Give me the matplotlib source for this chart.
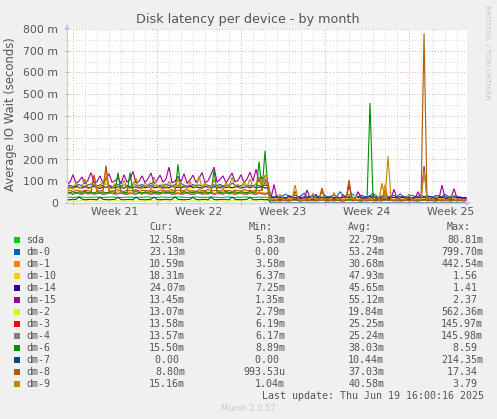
import numpy as np
import matplotlib
matplotlib.use('Agg')
import matplotlib.pyplot as plt
from matplotlib.patches import Rectangle
from matplotlib.transforms import blended_transform_factory

# samples every 6 hours, day 0 = Monday of week 21, first sample at day -0.5
t0 = -0.5
step = 0.25

sda = [26,27,25,26,28,27,26,25,27,26, 28,26,25,27,26,28,27,26,25,26,
       27,28,26,25,27,26,27,28,26,25, 26,27,28,26,25,27,26,28,27,26,
       25,26,27,28,26,25,27,26,28,27, 26,25,26,27,28,26,25,27,26,28,
       27,26,25,26,27,26,27,25,
       12,11,13,12,14,12,11,13,15,12, 11,13,12,14,13,12,11,12,14,13,
       12,13,15,12,11,13,12,14,12,13, 11,12,13,14,12,15,13,12,11,13,
       12,14,13,12,11,12,13,14,12,13, 15,12,11,13,12,14,13,12,11,12,
       13,14,12,13,12,13]
dm0 = [78,82,75,80,85,79,76,83,88,80, 77,84,79,90,82,76,81,86,78,83,
       80,75,88,82,79,85,77,81,92,80, 78,83,76,87,81,79,84,78,90,82,
       77,80,85,79,83,76,88,81,78,84, 80,86,77,82,79,91,83,78,80,85,
       77,82,79,84,80,76,82,78,
       30,28,33,27,35,40,29,31,36,28, 33,45,30,27,38,32,29,50,34,28,
       31,37,29,52,35,30,28,41,33,29, 36,31,27,34,44,30,28,33,38,29,
       31,35,28,42,30,27,33,36,29,31, 38,28,34,30,27,35,32,29,40,31,
       28,33,30,27,25,23]
dm1 = [45,48,42,50,46,44,52,47,43,125, 49,45,48,165,50,44,47,52,46,43,
       51,48,45,60,47,44,50,46,49,53, 45,48,44,51,47,55,46,49,43,50,
       48,45,52,47,44,58,49,46,50,45, 47,53,44,48,51,46,49,45,52,47,
       44,50,48,46,52,47,45,50,
       12,14,11,15,13,12,16,14,11,13, 15,12,14,11,13,16,12,70,13,11,
       14,12,15,13,11,14,100,12,15,13, 11,14,12,16,13,11,14,12,85,13,
       15,12,11,14,13,16,12,11,14,13, 12,15,11,13,14,12,16,13,11,12,
       14,13,11,12,10,11]
dm10 = [65,70,62,75,68,72,80,66,70,74, 63,78,70,95,67,72,76,69,64,82,
        71,68,75,100,70,66,73,79,68,72, 85,67,74,70,65,78,72,90,68,75,
        70,66,80,73,69,76,95,70,67,74, 71,78,65,72,86,69,74,70,66,92,
        73,68,75,80,100,72,95,70,
        18,20,16,22,19,17,21,24,18,20, 16,19,23,18,17,21,20,25,18,16,
        19,22,17,20,24,18,16,21,19,17, 23,20,18,16,22,19,17,92,20,18,
        21,17,19,23,18,16,20,22,19,17, 35,18,21,19,16,20,18,22,17,19,
        21,18,16,20,19,18]
dm14 = [70,74,68,76,72,69,75,71,73,78, 70,67,74,72,76,69,71,75,73,68,
        77,70,72,74,69,76,71,73,80,70, 72,75,68,74,71,77,70,73,69,75,
        72,78,70,74,71,68,76,73,70,75, 72,69,77,71,74,70,73,76,69,72,
        75,71,78,70,73,74,69,71,
        26,24,28,25,27,23,29,26,24,27, 25,28,24,26,30,25,23,27,26,24,
        28,25,27,23,26,29,24,27,25,26, 28,24,26,30,25,27,23,26,28,24,
        27,25,26,29,24,27,25,23,28,26, 24,27,25,29,26,24,27,25,28,26,
        24,27,25,26,24,25]
dm15 = [85,95,130,90,100,120,88,105,140,92, 98,125,90,110,135,95,102,118,88,130,
        96,108,145,92,100,125,94,112,138,90, 104,128,96,110,165,92,100,122,98,135,
        90,106,128,95,112,140,94,102,130,165, 96,108,125,92,115,138,98,104,130,94,
        110,142,100,155,98,120,105,95,
        22,85,20,18,25,19,35,21,17,24, 20,18,60,22,19,40,21,17,23,20,
        30,19,22,18,38,21,83,20,19,52, 22,18,24,20,35,19,21,18,23,20,
        22,63,19,21,32,18,23,20,22,52, 19,170,21,18,24,20,22,82,19,21,
        23,66,20,18,22,19]
dm2 = [9,10,9,8,9,10,11,9,8,9, 10,9,8,9,10,9,11,10,9,8,
       9,10,9,8,9,10,9,11,10,9, 8,9,10,9,8,9,10,9,11,9,
       8,9,10,9,8,9,10,11,9,8, 9,10,9,8,9,10,9,11,10,9,
       8,9,10,9,8,9,10,9,
       14,16,13,18,15,12,17,20,14,16, 13,15,18,22,14,12,16,19,15,13,
       17,14,20,16,13,15,18,14,35,16, 13,17,15,12,19,16,14,18,40,15,
       13,16,14,17,20,15,13,16,18,14, 12,15,17,14,16,13,19,15,14,16,
       13,17,15,14,16,13]
dm3 = [42,44,41,45,43,40,46,42,44,41, 43,45,40,42,46,44,41,43,45,42,
       40,44,43,41,46,42,45,43,40,44, 42,41,45,43,46,40,42,44,41,43,
       45,42,40,44,46,41,43,42,45,40, 44,43,41,46,42,44,40,43,45,41,
       42,44,43,40,46,42,41,44,
       13,14,12,15,13,12,14,13,15,12, 14,13,12,15,14,13,12,14,13,15,
       12,13,14,12,15,13,14,12,13,15, 14,12,13,14,15,12,13,14,12,13,
       15,14,12,13,14,12,15,13,14,12, 13,15,14,12,13,14,12,13,15,14,
       12,13,14,12,13,14]
dm4 = [43,44,42,45,43,41,46,42,44,42, 43,45,41,42,46,44,42,43,45,42,
       41,44,43,42,46,42,45,43,41,44, 42,42,45,43,46,41,42,44,42,43,
       45,42,41,44,46,42,43,42,45,41, 44,43,42,46,42,44,41,43,45,42,
       42,44,43,41,46,42,42,44,
       13,14,12,15,13,12,14,13,15,12, 14,13,12,15,14,13,12,14,13,15,
       12,13,14,12,15,13,14,12,13,15, 14,12,13,14,15,12,13,14,12,13,
       15,14,12,13,14,12,15,13,14,12, 13,15,14,12,13,14,12,13,15,14,
       12,13,14,12,13,14]
dm6 = [50,48,52,47,51,49,53,48,50,46, 52,49,51,47,50,53,48,140,51,49,
       47,140,50,52,48,46,51,49,53,47, 50,48,52,49,51,47,50,178,48,52,
       49,51,47,53,50,48,52,49,46,150, 51,48,50,53,47,49,52,48,51,50,
       47,53,49,51,190,55,240,58,
       16,15,17,14,16,18,15,17,16,14, 15,17,16,18,15,14,16,17,15,16,
       18,14,17,15,16,14,18,16,15,17, 14,16,15,460,16,14,17,15,16,18,
       14,15,17,16,14,18,15,16,17,15, 14,16,18,15,17,16,14,15,17,16,
       18,15,16,14,16,15]
dm7 = [16,15,17,16,28,18,15,16,17,16, 15,27,17,16,15,16,17,26,16,15,
       16,17,15,28,17,16,15,16,17,27, 16,15,16,17,15,16,28,17,16,15,
       16,17,26,16,15,16,17,15,27,16, 15,16,17,16,15,28,17,16,15,16,
       17,26,16,15,16,17,15,16,
       0,0,0,0,0,0,0,0,0,0, 0,0,0,0,0,0,0,0,0,0,
       0,0,0,0,0,0,0,0,0,0, 0,0,0,0,0,0,0,0,0,0,
       0,0,0,0,0,0,0,0,0,0, 0,0,0,0,0,0,0,0,0,0,
       0,0,0,0,0,0]
dm8 = [55,58,52,60,56,54,59,57,53,130, 58,55,60,172,57,54,58,61,55,53,
       60,56,58,62,54,57,59,55,61,56, 53,58,60,55,57,62,54,59,56,58,
       61,55,57,53,60,58,56,62,54,57, 59,55,61,56,58,53,60,57,55,62,
       56,58,54,60,57,59,100,70,
       10,9,11,8,12,10,9,11,55,10, 8,12,9,11,10,9,12,68,10,8,
       11,9,12,10,8,11,106,9,12,10, 8,11,9,12,10,9,11,8,60,10,
       12,9,11,8,10,12,9,11,10,8, 12,780,9,11,10,8,12,9,11,10,
       8,12,9,11,10,9]
dm9 = [60,72,65,95,68,75,110,66,70,88, 64,78,100,120,70,66,90,74,62,105,
       72,68,85,115,70,64,95,78,66,120, 74,70,88,65,100,76,68,112,72,84,
       66,98,75,70,125,68,90,74,66,108, 72,80,64,96,75,118,70,86,68,100,
       74,110,72,90,120,80,130,85,
       16,18,14,40,17,15,19,16,83,18, 14,17,20,15,45,16,18,14,17,19,
       15,48,16,18,14,17,42,19,15,16, 18,14,17,20,15,38,16,90,18,215,
       17,15,19,14,18,16,42,15,17,19, 14,150,16,18,15,30,17,19,14,16,
       35,18,15,17,16,15]

names = ['sda', 'dm-0', 'dm-1', 'dm-10', 'dm-14', 'dm-15', 'dm-2',
         'dm-3', 'dm-4', 'dm-6', 'dm-7', 'dm-8', 'dm-9']
series = [sda, dm0, dm1, dm10, dm14, dm15, dm2, dm3, dm4, dm6, dm7, dm8, dm9]
colors = ['#00CC00', '#0066B3', '#FF8000', '#FFCC00', '#330099', '#990099',
          '#CCFF00', '#FF0000', '#808080', '#008F00', '#00487D', '#B35A00',
          '#B38F00']
cur = ['12.58m', '23.13m', '10.59m', '18.31m', '24.07m', '13.45m', '13.07m',
       '13.58m', '13.57m', '15.50m', '0.00 ', '8.80m', '15.16m']
mins = ['5.83m', '0.00 ', '3.58m', '6.37m', '7.25m', '1.35m', '2.79m',
        '6.19m', '6.17m', '8.89m', '0.00 ', '993.53u', '1.04m']
avgs = ['22.79m', '53.24m', '30.68m', '47.93m', '45.65m', '55.12m', '19.84m',
        '25.25m', '25.24m', '38.03m', '10.44m', '37.03m', '40.58m']
maxs = ['80.81m', '799.70m', '442.54m', '1.56 ', '1.41 ', '2.37 ', '562.36m',
        '145.97m', '145.98m', '8.59 ', '214.35m', '17.34 ', '3.79 ']

week_labels = ['Week 21', 'Week 22', 'Week 23', 'Week 24', 'Week 25']
week_starts = [0, 7, 14, 21, 28]
yticks = [0, 100, 200, 300, 400, 500, 600, 700, 800]

W, H = 497, 419
txt = '#555555'
fig = plt.figure(figsize=(W / 100, H / 100), dpi=100)
fig.patch.set_facecolor('#F0F0F0')

def px(x, y):
    return x / W, 1 - y / H

ax = fig.add_axes([67 / W, 1 - 203 / H, 400 / W, 174 / H])
ax.set_facecolor('white')

for vals, c in zip(series, colors):
    x = t0 + step * np.arange(len(vals))
    ax.plot(x, vals, color=c, linewidth=0.8, solid_joinstyle='miter')

ax.set_xlim(-0.5, 32.83)
ax.set_ylim(0, 800)

ax.set_xticks(week_starts)
ax.set_xticks(np.arange(0, 33, 1), minor=True)
ax.set_xticklabels([])
ax.set_yticks(yticks)
ax.set_yticklabels(['0'] + ['%d m' % v for v in yticks[1:]], fontsize=7.8, color=txt)
ax.set_yticks(np.arange(50, 800, 50), minor=True)
ax.grid(which='major', color='#E8A8A8', linestyle=(0, (1, 2)), linewidth=0.7)
ax.grid(which='minor', color='#D4D4D4', linestyle=(0, (1, 2)), linewidth=0.7)
ax.set_axisbelow(True)
ax.tick_params(which='major', length=3, color='#E0A0A0', direction='inout')
ax.tick_params(which='minor', length=2, color='#C8C8C8', direction='inout')
ax.tick_params(axis='y', which='major', pad=5)

for s in ['top', 'right']:
    ax.spines[s].set_visible(False)
for s in ['left', 'bottom']:
    ax.spines[s].set_color('#C8C8F0')
    ax.spines[s].set_linewidth(0.8)
ax.annotate('', xy=(474 / W, 1 - 203 / H), xytext=(466 / W, 1 - 203 / H),
            xycoords='figure fraction',
            arrowprops=dict(arrowstyle='-|>', color='#C8C8F0', lw=0.8, mutation_scale=7))
ax.annotate('', xy=(67 / W, 1 - 21 / H), xytext=(67 / W, 1 - 30 / H),
            xycoords='figure fraction',
            arrowprops=dict(arrowstyle='-|>', color='#C8C8F0', lw=0.8, mutation_scale=7))

trans = blended_transform_factory(ax.transData, fig.transFigure)
for lab, ws in zip(week_labels, week_starts):
    ax.text(ws + 3.5, 1 - 212 / H, lab, transform=trans, ha='center', va='center',
            fontsize=7.8, color=txt)

fig.text(*px(248, 19), 'Disk latency per device - by month', ha='center', va='center',
         fontsize=9.2, color=txt)
fig.text(*px(11, 114), 'Average IO Wait (seconds)', ha='center', va='center',
         rotation=90, fontsize=8.4, color=txt)
fig.text(*px(487, 5), 'RRDTOOL / TOBI OETIKER', ha='center', va='top',
         rotation=270, fontsize=5.3, color='#C4C4C4')

# legend block
mono = dict(family='DejaVu Sans Mono', fontsize=7.2, color=txt, va='center')
cw = 5.98
for lab, x in zip(['Cur:', 'Min:', 'Avg:', 'Max:'], [149, 249, 348, 447]):
    fig.text(*px(x, 227), lab, ha='left', **mono)
for k, (n, c) in enumerate(zip(names, colors)):
    y = 240 + 12 * k
    fig.add_artist(Rectangle(px(14, y + 3), 6 / W, 6 / H, transform=fig.transFigure,
                             facecolor=c, edgecolor='none'))
    fig.text(*px(26, y), n, ha='left', **mono)
    for s, xr in zip([cur[k], mins[k], avgs[k], maxs[k]], [185, 285, 384, 483]):
        fig.text(*px(xr - cw * len(s), y), s, ha='left', **mono)
last = 'Last update: Thu Jun 19 16:00:16 2025'
fig.text(*px(483 - cw * len(last), 396), last, ha='left', **mono)
fig.text(*px(248, 408), 'Munin 2.0.57', ha='center', va='center', fontsize=6,
         color='#C8C8C8')

fig.savefig('out.png', dpi=100, facecolor=fig.get_facecolor())
